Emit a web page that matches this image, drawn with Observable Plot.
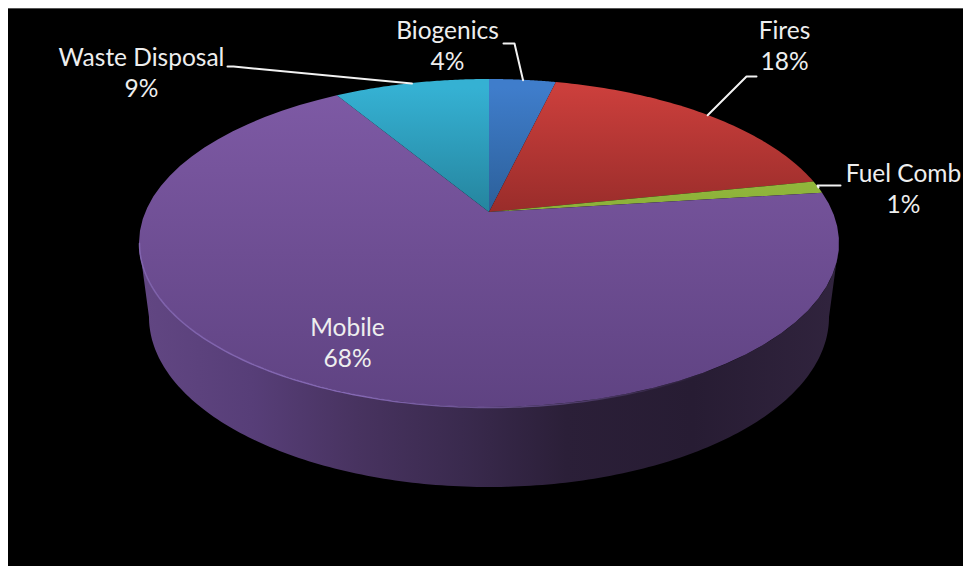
<!DOCTYPE html>
<html>
<head>
<meta charset="utf-8">
<script src="https://cdn.jsdelivr.net/npm/d3@7"></script>
<script src="https://cdn.jsdelivr.net/npm/@observablehq/plot@0.6"></script>
<style>
html,body{margin:0;padding:0;background:#fff;overflow:hidden}
#chart{position:absolute;left:8px;top:9px;width:955px;height:557px;background:#000;box-shadow:0 -1px 0 #555}
svg{display:block;background:#000}
</style>
</head>
<body>
<div id="chart"></div>
<script>
// Chart values
const categories = ["Biogenics", "Fires", "Fuel Comb", "Mobile", "Waste Disposal"];
const shares = [3.7, 18.1, 1.2, 68.4, 8.6];

// Layout of the tilted disc (page pixels)
const disc = {cx: 489, cy: 243, rx: 350, ry: 164, tilt: 0.189, bottomCy: 317, bottomRx: 340, bottomRy: 170};
const labelAt = {
  "Biogenics": [447, 31], "Fires": [784, 31], "Fuel Comb": [903, 174],
  "Mobile": [347, 328], "Waste Disposal": [141, 58]
};
const leaderPath = {
  "Biogenics": [[503, 43], [514, 43]],
  "Fires": [[756, 76], [746, 76]],
  "Fuel Comb": [[840, 185], [817, 185]],
  "Waste Disposal": [[227, 66], [233, 66]]
};
const sliceTop = {"Biogenics": "#3f7dcb", "Fires": "#cb3f3c", "Fuel Comb": "#a2cb44", "Mobile": "#7e5aa5", "Waste Disposal": "#35b1d3"};
const sliceBottom = {"Biogenics": "#2a5d95", "Fires": "#962b29", "Fuel Comb": "#8aae38", "Mobile": "#5e4281", "Waste Disposal": "#24819a"};

// Perspective projection of a circle angle (clockwise from 12 o'clock) on the tilted disc
function project(deg) {
  const t = deg * Math.PI / 180, a = disc.tilt;
  const ux = Math.sin(t), uy = Math.cos(t), k = 1 + a * uy;
  return [disc.cx + disc.rx * ux * Math.sqrt(1 - a * a) / k, disc.cy - disc.ry * (uy + a) / k];
}
const apex = [disc.cx, disc.cy - disc.ry * disc.tilt];

let running = 0;
const slices = categories.map((name, i) => {
  const start = running * 3.6; running += shares[i]; const end = running * 3.6;
  return {name, share: shares[i], start, end, mid: (start + end) / 2};
});

const fan = slices.flatMap(s => d3.range(0, 61).map(j => {
  const [x, y] = project(s.start + (s.end - s.start) * j / 60);
  return {name: s.name, x, y, ax: apex[0], ay: apex[1]};
}));

// Outer wall: band between the top rim and the lower rim
const wall = d3.range(0, 181).map(j => {
  const t = Math.PI * j / 180;
  return {
    x1: disc.cx - disc.rx * Math.cos(t), y1: disc.cy + disc.ry * Math.sin(t),
    x2: disc.cx - disc.bottomRx * Math.cos(t), y2: disc.bottomCy + disc.bottomRy * Math.sin(t)
  };
});
const rim = wall.map(d => ({x: d.x1, y: d.y1}));

const leaders = slices.filter(s => leaderPath[s.name]).flatMap(s =>
  [...leaderPath[s.name], project(s.mid)].map(([x, y]) => ({name: s.name, x, y})));

const labels = slices.flatMap(s => [
  {text: s.name, x: labelAt[s.name][0], y: labelAt[s.name][1]},
  {text: Math.round(s.share) + "%", x: labelAt[s.name][0], y: labelAt[s.name][1] + 31}
]);

const NS = "http://www.w3.org/2000/svg";
function gradient(defs, id, attrs, stops) {
  const g = document.createElementNS(NS, "linearGradient");
  g.setAttribute("id", id);
  g.setAttribute("gradientUnits", "userSpaceOnUse");
  for (const k in attrs) g.setAttribute(k, attrs[k]);
  for (const [o, c, a] of stops) {
    const s = document.createElementNS(NS, "stop");
    s.setAttribute("offset", o); s.setAttribute("stop-color", c);
    if (a != null) s.setAttribute("stop-opacity", a);
    g.appendChild(s);
  }
  defs.appendChild(g);
}
const gradientDefs = () => {
  const defs = document.createElementNS(NS, "defs");
  categories.forEach((name, i) => gradient(defs, "top" + i,
    {x1: 0, x2: 0, y1: 79, y2: name === "Mobile" ? 407 : 212}, [[0, sliceTop[name]], [1, sliceBottom[name]]]));
  gradient(defs, "wallFill", {x1: 139, x2: 838, y1: 0, y2: 0},
    [[0, "#614682"], [0.15, "#573e78"], [0.3, "#483360"], [0.45, "#3a2a4e"], [0.6, "#2b1f38"], [0.78, "#271c33"], [1, "#31243e"]]);
  gradient(defs, "rimStroke", {x1: 139, x2: 838, y1: 0, y2: 0},
    [[0, "#8568b4", 0.9], [0.3, "#8568b4", 1], [0.6, "#7a5fa6", 0.5], [0.8, "#7a5fa6", 0]]);
  return defs;
};

const chart = Plot.plot({
  width: 955, height: 557, margin: 0,
  style: {background: "#000", overflow: "visible"},
  x: {domain: [8, 963], range: [0, 955], axis: null},
  y: {domain: [9, 566], range: [0, 557], axis: null},
  marks: [
    gradientDefs,
    Plot.area(wall, {x1: "x1", y1: "y1", x2: "x2", y2: "y2", fill: "url(#wallFill)", curve: "linear"}),
    ...categories.map((name, i) => Plot.area(fan.filter(d => d.name === name), {
      x1: "ax", y1: "ay", x2: "x", y2: "y", fill: `url(#top${i})`, curve: "linear"
    })),
    Plot.line(rim, {x: "x", y: "y", stroke: "url(#rimStroke)", strokeWidth: 1.5, curve: "linear"}),
    Plot.line(leaders, {x: "x", y: "y", z: "name", stroke: "#f2f2f2", strokeWidth: 2, curve: "linear"}),
    Plot.text(labels, {x: "x", y: "y", text: "text", fill: "#eeeeee", fontSize: 24.5, fontFamily: "Lato", textAnchor: "middle", lineAnchor: "middle"})
  ]
});
document.getElementById("chart").appendChild(chart);
</script>
</body>
</html>
